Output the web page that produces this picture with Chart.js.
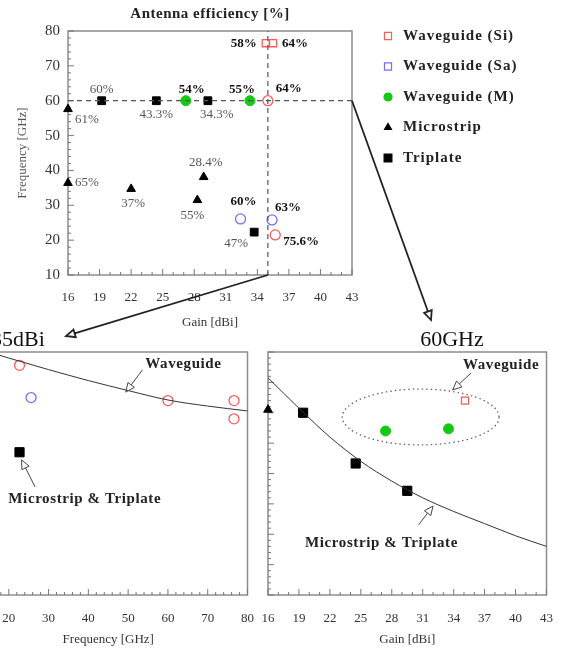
<!DOCTYPE html>
<html>
<head>
<meta charset="utf-8">
<script src="https://cdn.jsdelivr.net/npm/chart.js@4.4.0/dist/chart.umd.min.js"></script>
<style>
  html, body { margin: 0; padding: 0; background: #fff; }
  #wrap { position: relative; width: 569px; height: 655px; overflow: hidden; background: #fff; }
  #wrap canvas { position: absolute; top: 0; }
</style>
</head>
<body>
<div id="wrap">
  <canvas id="gainChart" width="569" height="655" style="left:0"></canvas>
  <canvas id="freqChart" width="330" height="655" style="left:-60px"></canvas>
  <canvas id="mapChart" width="569" height="655" style="left:0"></canvas>
</div>
<script>
const FONT = "'Liberation Serif', 'Times New Roman', serif";
const RED = "#ff5a5a", BLUE = "#6f6fff", GREEN = "#14c814";

// ---- top panel: gain vs frequency, labelled with efficiency ----
const siGain = [34.8, 35.5, 35.0, 35.7];
const siFreq = [76.5, 76.5, 60, 21.5];
const siEffText = ["58%", "64%", "64%", "75.6%"];

const saGain = [32.4, 35.4];
const saFreq = [26.1, 25.8];
const saEffText = ["60%", "63%"];

const mGain = [27.2, 33.3];
const mFreq = [60, 60];
const mEffText = ["54%", "55%"];

const msGain = [16, 16, 22, 28.3, 28.9];
const msFreq = [57.6, 36.4, 34.7, 31.5, 38.1];
const msEffText = ["61%", "65%", "37%", "55%", "28.4%"];

const tpGain = [19.2, 24.4, 29.3, 33.7];
const tpFreq = [60, 60, 60, 22.3];
const tpEffText = ["60%", "43.3%", "34.3%", "47%"];

const cutH = { gain: [16, 43], freq: [60, 60] };   // 60GHz cut
const cutV = { gain: [35, 35], freq: [10, 80] };   // 35dBi cut

const gainTicks = [16, 43, 3];
const freqTicks = [10, 80, 10];

// ---- bottom left: 35dBi, efficiency vs frequency ----
const wgFreq35 = [22.7, 60, 76.6, 76.6];
const wgEff35 = [75.6, 64, 64, 58];
const saFreq35 = [25.6];
const saEff35 = [65];
const tpFreq35 = [22.7];
const tpEff35 = [47];
const fitFreq35 = [15, 20, 30, 40, 50, 60, 70, 80];
const fitEff35 = [80, 78, 74.2, 70.6, 67.3, 64.2, 62.2, 60.6];

// ---- bottom right: 60GHz, efficiency vs gain ----
const siGain60 = [35.1];
const siEff60 = [64];
const mGain60 = [27.4, 33.5];
const mEff60 = [54, 54.7];
const msGain60 = [16];
const msEff60 = [61];
const tpGain60 = [19.4, 24.5, 29.5];
const tpEff60 = [60, 43.3, 34.3];
const fitGain60 = [16, 19, 22, 25, 28, 31, 34, 37, 40, 43];
const fitEff60 = [71.5, 61.5, 52, 44, 37.5, 32, 27.5, 23.5, 19.5, 16];

const pts = (xs, ys) => xs.map((x, i) => ({ x, y: ys[i] }));

// label placement for the top panel: [align, dx, dy]
const siTagPos = [["right", -9, 0], ["left", 9, 0], ["left", 8, -12], ["left", 8, 7]];
const saTagPos = [["center", 3, -17], ["left", 3, -12]];
const mTagPos = [["center", 6, -11], ["center", -8, -11]];
const msTagPos = [["left", 7, 10], ["left", 7, 0], ["center", 2, 15], ["center", -5, 16], ["center", 2, -14]];
const tpTagPos = [["center", 0, -11], ["center", 0, 14], ["center", 9, 14], ["center", -18, 11]];

function arrow(ctx, x1, y1, x2, y2, len, half) {
  const a = Math.atan2(y2 - y1, x2 - x1);
  const bx = x2 - len * Math.cos(a), by = y2 - len * Math.sin(a);
  ctx.beginPath();
  ctx.moveTo(x1, y1);
  ctx.lineTo(bx, by);
  ctx.stroke();
  ctx.beginPath();
  ctx.moveTo(x2, y2);
  ctx.lineTo(bx + half * Math.sin(a), by - half * Math.cos(a));
  ctx.lineTo(bx - half * Math.sin(a), by + half * Math.cos(a));
  ctx.closePath();
  ctx.stroke();
}

// frame + inward tick marks
const frame = {
  id: "frame",
  beforeDatasetsDraw(chart, args, opts) {
    const { ctx, chartArea: a, scales } = chart;
    ctx.save();
    ctx.strokeStyle = "#8c8c8c";
    ctx.lineWidth = 1.5;
    ctx.strokeRect(a.left, a.top, a.right - a.left, a.bottom - a.top);
    ctx.lineWidth = 1;
    ctx.strokeStyle = "#777";
    const marks = (scale, major, minor, draw) => {
      for (let v = scale.min; v <= scale.max + 1e-6; v += minor) {
        const m = Math.abs(((v - scale.min) / major) - Math.round((v - scale.min) / major)) < 1e-6;
        draw(scale.getPixelForValue(v), m ? 6 : 3);
      }
    };
    ctx.beginPath();
    marks(scales.x, opts.x[0], opts.x[1], (p, l) => { ctx.moveTo(p, a.bottom); ctx.lineTo(p, a.bottom - l); });
    marks(scales.y, opts.y[0], opts.y[1], (p, l) => { ctx.moveTo(a.left, p); ctx.lineTo(a.left + l, p); });
    ctx.stroke();
    ctx.restore();
  }
};

const pointLabels = {
  id: "pointLabels",
  afterDatasetsDraw(chart) {
    const ctx = chart.ctx;
    chart.data.datasets.forEach((ds, i) => {
      if (!ds.tags) return;
      const meta = chart.getDatasetMeta(i);
      ctx.save();
      ctx.font = ds.tagFont;
      ctx.fillStyle = ds.tagColor;
      ctx.textBaseline = "middle";
      meta.data.forEach((pt, j) => {
        const [align, dx, dy] = ds.tagPos[j];
        ctx.textAlign = align;
        ctx.fillText(ds.tags[j], pt.x + dx, pt.y + dy);
      });
      ctx.restore();
    });
  }
};

// legend, title and the two cut arrows of the top panel
const topDecor = {
  id: "topDecor",
  afterDraw(chart) {
    const { ctx, chartArea: a, scales } = chart;
    ctx.save();
    ctx.fillStyle = "#222";
    ctx.font = "bold 15px " + FONT;
    ctx.letterSpacing = "0.5px";
    ctx.textAlign = "center";
    ctx.textBaseline = "middle";
    ctx.fillText("Antenna efficiency [%]", (a.left + a.right) / 2, 14);

    let y = 36;
    chart.data.datasets.forEach((ds) => {
      if (!ds.key) return;
      ctx.fillStyle = ds.backgroundColor;
      ctx.strokeStyle = ds.borderColor;
      ctx.lineWidth = 1.2;
      Chart.helpers.drawPoint(ctx, { pointStyle: ds.key.style, radius: ds.key.r, rotation: 0, borderWidth: 1.2 }, 388, y);
      ctx.fillStyle = "#222";
      ctx.textAlign = "left";
      ctx.font = "bold 15px " + FONT;
      ctx.letterSpacing = "1px";
      ctx.fillText(ds.label, 403, y);
      y += 30.5;
    });
    ctx.letterSpacing = "0px";

    ctx.strokeStyle = "#222";
    ctx.lineWidth = 1.8;
    arrow(ctx, scales.x.getPixelForValue(35), scales.y.getPixelForValue(10), 66, 336, 9, 4);
    arrow(ctx, scales.x.getPixelForValue(43), scales.y.getPixelForValue(60), 431, 320, 9, 4);
    ctx.restore();
  }
};

// panel title, annotation texts and arrows, ellipse (bottom panels)
const notes = {
  id: "notes",
  afterDraw(chart, args, opts) {
    const { ctx, chartArea: a, scales } = chart;
    const X = (v) => scales.x.getPixelForValue(v), Y = (v) => scales.y.getPixelForValue(v);
    ctx.save();
    ctx.fillStyle = "#111";
    ctx.font = "22px " + FONT;
    ctx.textAlign = "center";
    ctx.textBaseline = "middle";
    ctx.fillText(opts.title[0], a.left + opts.title[1], a.top + opts.title[2]);
    ctx.font = "bold 15px " + FONT;
    ctx.letterSpacing = "0.6px";
    ctx.fillStyle = "#222";
    opts.texts.forEach((t) => ctx.fillText(t[0], X(t[1]), Y(t[2])));
    ctx.letterSpacing = "0px";
    ctx.strokeStyle = "#444";
    ctx.lineWidth = 1;
    opts.arrows.forEach((r) => arrow(ctx, X(r[0]), Y(r[1]), X(r[2]), Y(r[3]), 9, 4));
    if (opts.ellipse) {
      const e = opts.ellipse;
      ctx.setLineDash([1.5, 3]);
      ctx.strokeStyle = "#666";
      ctx.lineWidth = 1.3;
      ctx.beginPath();
      ctx.ellipse(X(e[0]), Y(e[1]), X(e[0] + e[2]) - X(e[0]), Y(e[1] - e[3]) - Y(e[1]), 0, 0, Math.PI * 2);
      ctx.stroke();
    }
    ctx.restore();
  }
};

const tickFont = { family: FONT, size: 13 };
function axis(range, opts) {
  return Object.assign({
    type: "linear",
    min: range[0], max: range[1],
    ticks: { stepSize: range[2], autoSkip: false, color: "#333", font: tickFont, padding: 15 },
    grid: { display: false, drawTicks: false },
    border: { display: false }
  }, opts);
}

// ----- top panel -----
new Chart(document.getElementById("mapChart"), {
  type: "scatter",
  data: {
    datasets: [
      { label: "60GHz", data: pts(cutH.gain, cutH.freq), showLine: true, borderColor: "#555", borderWidth: 1.2, borderDash: [5, 4], pointRadius: 0 },
      { label: "35dBi", data: pts(cutV.gain, cutV.freq), showLine: true, borderColor: "#555", borderWidth: 1.2, borderDash: [5, 4], pointRadius: 0 },
      { label: "Waveguide (Si)", data: pts(siGain, siFreq), pointStyle: ["rect", "rect", "circle", "circle"], pointRadius: [5, 5, 5, 5], borderColor: RED, backgroundColor: "#fff", borderWidth: 1.3, clip: false,
        tags: siEffText, tagPos: siTagPos, tagFont: "bold 13px " + FONT, tagColor: "#111", key: { style: "rect", r: 5 } },
      { label: "Waveguide (Sa)", data: pts(saGain, saFreq), pointStyle: "circle", pointRadius: 5, borderColor: BLUE, backgroundColor: "#fff", borderWidth: 1.3, clip: false,
        tags: saEffText, tagPos: saTagPos, tagFont: "bold 13px " + FONT, tagColor: "#111", key: { style: "rect", r: 5 } },
      { label: "Waveguide (M)", data: pts(mGain, mFreq), pointStyle: "circle", pointRadius: 5, borderColor: GREEN, backgroundColor: GREEN, borderWidth: 1, clip: false,
        tags: mEffText, tagPos: mTagPos, tagFont: "bold 13px " + FONT, tagColor: "#111", key: { style: "circle", r: 4 } },
      { label: "Microstrip", data: pts(msGain, msFreq), pointStyle: "triangle", pointRadius: 5, borderColor: "#000", backgroundColor: "#000", borderWidth: 1, clip: false,
        tags: msEffText, tagPos: msTagPos, tagFont: "13px " + FONT, tagColor: "#555", key: { style: "triangle", r: 4 } },
      { label: "Triplate", data: pts(tpGain, tpFreq), pointStyle: "rect", pointRadius: 5.5, borderColor: "#000", backgroundColor: "#000", borderWidth: 1, clip: false,
        tags: tpEffText, tagPos: tpTagPos, tagFont: "13px " + FONT, tagColor: "#555", key: { style: "rect", r: 5.5 } }
    ]
  },
  options: {
    responsive: false,
    animation: false,
    layout: { padding: { left: 15, right: 217, top: 31, bottom: 325 } },
    plugins: {
      legend: { display: false },
      tooltip: { enabled: false },
      frame: { x: [3, 1], y: [10, 2] }
    },
    scales: {
      x: axis(gainTicks, {
        title: { display: true, text: "Gain [dBi]", color: "#333", font: tickFont, padding: 0 },
        afterFit: (s) => { s.height = 55; }
      }),
      y: axis(freqTicks, {
        ticks: { stepSize: 10, autoSkip: false, color: "#333", font: { family: FONT, size: 15 }, padding: 8 },
        title: { display: true, text: "Frequency [GHz]", color: "#555", font: tickFont, padding: 0 },
        afterFit: (s) => { s.width = 53; }
      })
    }
  },
  plugins: [frame, pointLabels, topDecor]
});

// ----- bottom left: 35dBi -----
new Chart(document.getElementById("freqChart"), {
  type: "scatter",
  data: {
    datasets: [
      { label: "fit", data: pts(fitFreq35, fitEff35), showLine: true, borderColor: "#333", borderWidth: 1, pointRadius: 0, cubicInterpolationMode: "monotone" },
      { label: "Waveguide (Si)", data: pts(wgFreq35, wgEff35), pointStyle: "circle", pointRadius: 5, borderColor: RED, backgroundColor: "#fff", borderWidth: 1.3, clip: false },
      { label: "Waveguide (Sa)", data: pts(saFreq35, saEff35), pointStyle: "circle", pointRadius: 5, borderColor: BLUE, backgroundColor: "#fff", borderWidth: 1.3, clip: false },
      { label: "Triplate", data: pts(tpFreq35, tpEff35), pointStyle: "rect", pointRadius: 6.5, borderColor: "#000", backgroundColor: "#000", borderWidth: 1, clip: false }
    ]
  },
  options: {
    responsive: false,
    animation: false,
    layout: { padding: { left: 0, right: 14, top: 352, bottom: 8 } },
    plugins: {
      legend: { display: false },
      tooltip: { enabled: false },
      frame: { x: [10, 2], y: [10, 2] },
      notes: {
        title: ["35dBi", 49, -12],
        texts: [["Waveguide", 63.9, 76.1], ["Microstrip & Triplate", 39.1, 31.6]],
        arrows: [[53.6, 74.1, 49.4, 66.8], [26.6, 35.6, 23.2, 44.5]]
      }
    },
    scales: {
      x: axis([10, 80, 10], {
        ticks: { stepSize: 10, autoSkip: false, color: "#333", font: tickFont, padding: 16 },
        title: { display: true, text: "Frequency [GHz]", color: "#333", font: tickFont, padding: 0 },
        afterFit: (s) => { s.height = 52; }
      }),
      y: axis([0, 80, 10], { ticks: { display: false }, afterFit: (s) => { s.width = 29; } })
    }
  },
  plugins: [frame, notes]
});

// ----- bottom right: 60GHz -----
new Chart(document.getElementById("gainChart"), {
  type: "scatter",
  data: {
    datasets: [
      { label: "fit", data: pts(fitGain60, fitEff60), showLine: true, borderColor: "#333", borderWidth: 1, pointRadius: 0, cubicInterpolationMode: "monotone" },
      { label: "Waveguide (Si)", data: pts(siGain60, siEff60), pointStyle: "rect", pointRadius: 5, borderColor: RED, backgroundColor: "#fff", borderWidth: 1.3, clip: false },
      { label: "Waveguide (M)", data: pts(mGain60, mEff60), pointStyle: "circle", pointRadius: 5, borderColor: GREEN, backgroundColor: GREEN, borderWidth: 1, clip: false },
      { label: "Microstrip", data: pts(msGain60, msEff60), pointStyle: "triangle", pointRadius: 5, borderColor: "#000", backgroundColor: "#000", borderWidth: 1, clip: false },
      { label: "Triplate", data: pts(tpGain60, tpEff60), pointStyle: "rect", pointRadius: 6.5, borderColor: "#000", backgroundColor: "#000", borderWidth: 1, clip: false }
    ]
  },
  options: {
    responsive: false,
    animation: false,
    layout: { padding: { left: 248, right: 20, top: 352, bottom: 8 } },
    plugins: {
      legend: { display: false },
      tooltip: { enabled: false },
      frame: { x: [3, 1], y: [10, 2] },
      notes: {
        title: ["60GHz", 184, -12],
        texts: [["Waveguide", 38.6, 75.7], ["Microstrip & Triplate", 27.0, 17.2]],
        arrows: [[35.7, 73.1, 33.9, 67.5], [30.6, 23.1, 32.0, 29.3]],
        ellipse: [30.8, 58.6, 7.6, 9.2]
      }
    },
    scales: {
      x: axis(gainTicks, {
        ticks: { stepSize: 3, autoSkip: false, color: "#333", font: tickFont, padding: 16 },
        title: { display: true, text: "Gain [dBi]", color: "#333", font: tickFont, padding: 0 },
        afterFit: (s) => { s.height = 52; }
      }),
      y: axis([0, 80, 10], { ticks: { display: false }, afterFit: (s) => { s.width = 20; } })
    }
  },
  plugins: [frame, notes]
});
</script>
</body>
</html>
